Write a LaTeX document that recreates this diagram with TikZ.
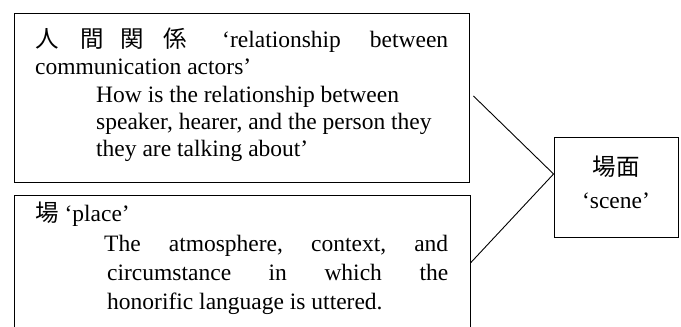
\documentclass[tikz,border=0pt]{standalone}
\usepackage{fontspec}
\setmainfont{Liberation Serif}
\newfontfamily\cjk{Noto Sans CJK JP}

\tikzstyle{box}=[draw,line width=0.9pt,inner sep=0pt]
\tikzstyle{txt}=[inner sep=0pt,anchor=base west,font=\fontsize{23.5}{28}\selectfont]
\tikzstyle{ctxt}=[inner sep=0pt,anchor=base,font=\fontsize{23.5}{28}\selectfont]
\tikzstyle{edge} = [draw,line width=0.9pt,-]

\begin{document}
\begin{tikzpicture}[x=1pt,y=-1pt]
	\useasboundingbox (0,0) rectangle (681,327);
			% the three boxes
			\node[box,minimum width=455pt,minimum height=169pt] (rel) at (241.5,97.5) {};
			\node[box,minimum width=456pt,minimum height=140pt] (place) at (242,265) {};
			\node[box,minimum width=124pt,minimum height=100pt] (scene) at (616,187) {};
			% text of the upper box
			\node[txt] (r1) at (35,47) {\hbox to 413pt{\makebox[45pt][l]{\cjk 人}\makebox[40pt][l]{\cjk 間}\makebox[43pt][l]{\cjk 関}\makebox[59pt][l]{\cjk 係}‘relationship\hfill between}};
			\node[txt] (r2) at (35,74) {communication actors’};
			\node[txt] (r3) at (96,102) {How is the relationship between};
			\node[txt] (r4) at (96,129) {speaker, hearer, and the person they};
			\node[txt] (r5) at (96,156) {they are talking about’};
			% text of the lower box
			\node[txt] (p1) at (35,221) {{\cjk 場} ‘place’};
			\node[txt] (p2) at (104,251) {\hbox to 344pt{The\hfill atmosphere,\hfill context,\hfill and}};
			\node[txt] (p3) at (107,280) {\hbox to 341pt{circumstance\hfill in\hfill which\hfill the}};
			\node[txt] (p4) at (107,309) {honorific language is uttered.};
			% text of the scene box
			\node[ctxt] (s1) at (616,175) {\cjk 場面};
			\node[ctxt] (s2) at (616,208) {‘scene’};
			% connect the boxes
			\coordinate (relout) at ([xshift=4pt,yshift=1.5pt]rel.east);
			\coordinate (placeout) at ([yshift=2pt]place.east);
			\coordinate (meet) at ([yshift=13pt]scene.west);
			\foreach \source/ \dest in {relout/meet, placeout/meet}
				\path[edge] (\source) -- (\dest);
\end{tikzpicture}
\end{document}
